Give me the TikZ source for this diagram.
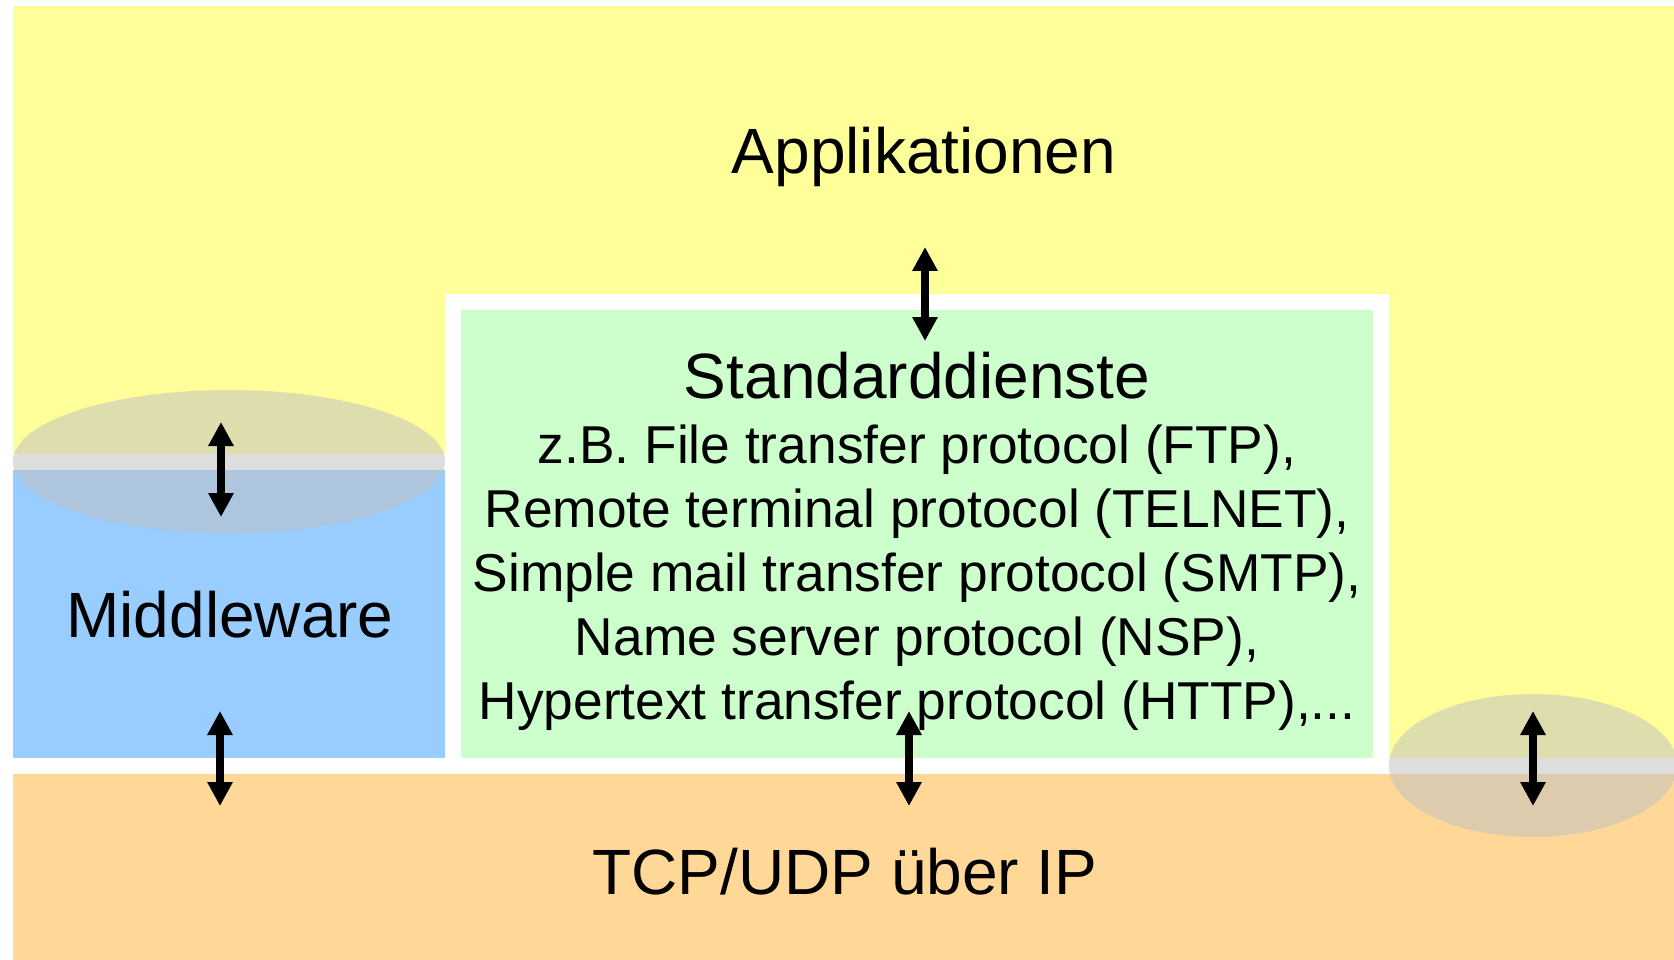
\documentclass[tikz,border=0pt]{standalone}
\usepackage{fontspec}
\setmainfont{Liberation Sans}
\usetikzlibrary{arrows.meta}
\definecolor{cyellow}{HTML}{FFFF99}
\definecolor{cblue}{HTML}{99CCFF}
\definecolor{cgreen}{HTML}{CCFFCC}
\definecolor{corange}{HTML}{FFD898}
\definecolor{cgray}{HTML}{C0C0C0}
\tikzset{
  big/.style={anchor=base, inner sep=0pt, font=\fontsize{64}{64}\selectfont},
  small/.style={anchor=base, inner sep=0pt, font=\fontsize{53.3}{53.3}\selectfont},
  darrow/.style={line width=8pt, {Triangle[width=24pt,length=24pt]}-{Triangle[width=24pt,length=24pt]}},
  lens/.style={fill=cgray, fill opacity=0.53, draw=none},
}
\begin{document}
\begin{tikzpicture}[x=1pt,y=-1pt]
\useasboundingbox (0,0) rectangle (1674,960);
\fill[white] (0,0) rectangle (1674,960);
% layers
\fill[cyellow] (13,6) rectangle (1674,758);
\fill[white] (13,454) rectangle (445,774);
\fill[white] (445,294) rectangle (1389,774);
\fill[white] (13,758) rectangle (1674,774);
\fill[cblue] (13,470) rectangle (445,758);
\fill[cgreen] (461,310) rectangle (1373,758);
\fill[corange] (13,774) rectangle (1674,960);
% transparent lenses
\fill[lens] (229,461.5) ellipse [x radius=216, y radius=71.5];
\fill[lens] (1533,765.5) ellipse [x radius=144, y radius=71.5];
% texts
\node[big] (app) at (924,174) {Applikationen};
\node[big] (std) at (917,398) {Standarddienste};
\node[small] (p1) at (917,463) {z.B. File transfer protocol (FTP),};
\node[small] (p2) at (917,527) {Remote terminal protocol (TELNET),};
\node[small] (p3) at (917,591) {Simple mail transfer protocol (SMTP),};
\node[small] (p4) at (917,655) {Name server protocol (NSP),};
\node[small] (p5) at (917,719) {Hypertext transfer protocol (HTTP),...};
\node[big] (mid) at (230,637) {Middleware};
\node[big] (tcp) at (845,894) {TCP/UDP über IP};
% arrow end points
\coordinate (a1t) at (925,247); \coordinate (a1b) at (925,341);
\coordinate (a2t) at (221,422); \coordinate (a2b) at (221,517);
\coordinate (a3t) at (220,711); \coordinate (a3b) at (220,806);
\coordinate (a4t) at (909,711); \coordinate (a4b) at (909,806);
\coordinate (a5t) at (1533,711); \coordinate (a5b) at (1533,806);
\draw[darrow] (a1t) -- (a1b);
\draw[darrow] (a2t) -- (a2b);
\draw[darrow] (a3t) -- (a3b);
\draw[darrow] (a4t) -- (a4b);
\draw[darrow] (a5t) -- (a5b);
\end{tikzpicture}
\end{document}
